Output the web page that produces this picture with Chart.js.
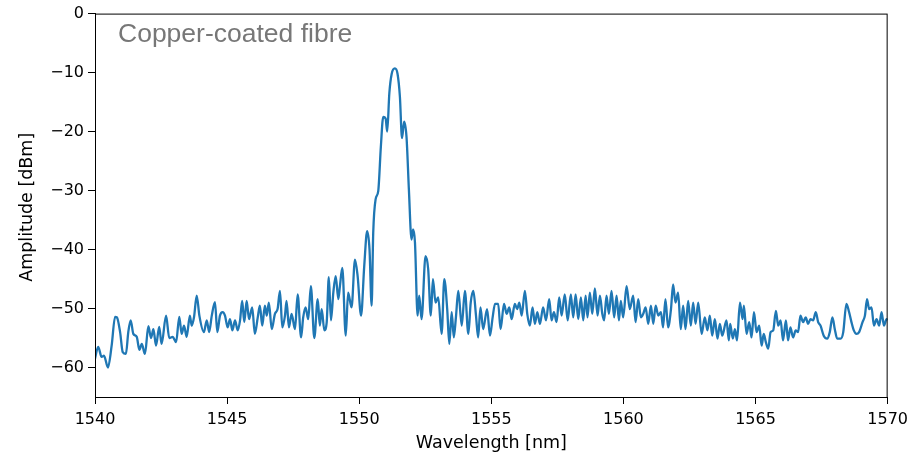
<!DOCTYPE html>
<html lang="en">
<head>
  <meta charset="UTF-8">
  <title>Copper-coated fibre spectrum</title>
  <script src="https://cdn.jsdelivr.net/npm/chart.js"></script>
  <style>
    html, body { margin: 0; padding: 0; background: #fff; }
    #wrap { width: 914px; height: 458px; position: relative; }
  </style>
</head>
<body>
  <div id="wrap"><canvas id="spectrum"></canvas></div>

  <script>
    // Spectrum
    const wavelength = [
      1540.00, 1540.12, 1540.25, 1540.34, 1540.49, 1540.63, 1540.76, 1540.83, 1540.95, 1541.05,
      1541.17, 1541.26, 1541.35, 1541.45, 1541.58, 1541.68, 1541.77, 1541.89, 1542.02, 1542.12,
      1542.21, 1542.31, 1542.43, 1542.52, 1542.69, 1542.81, 1542.94, 1543.07, 1543.19, 1543.28,
      1543.37, 1543.47, 1543.59, 1543.66, 1543.75, 1543.85, 1543.95, 1544.12, 1544.23, 1544.32,
      1544.42, 1544.54, 1544.63, 1544.73, 1544.83, 1544.92, 1545.02, 1545.11, 1545.20, 1545.30,
      1545.40, 1545.49, 1545.57, 1545.65, 1545.74, 1545.83, 1545.95, 1546.05, 1546.16, 1546.24,
      1546.33, 1546.43, 1546.50, 1546.58, 1546.69, 1546.81, 1546.91, 1547.00, 1547.09, 1547.19,
      1547.25, 1547.34, 1547.44, 1547.57, 1547.67, 1547.80, 1547.88, 1547.97, 1548.07, 1548.17,
      1548.30, 1548.43, 1548.51, 1548.58, 1548.68, 1548.77, 1548.85, 1548.93, 1549.02, 1549.11,
      1549.21, 1549.27, 1549.36, 1549.49, 1549.58, 1549.71, 1549.84, 1549.94, 1550.07, 1550.19,
      1550.30, 1550.39, 1550.47, 1550.53, 1550.62, 1550.72, 1550.82, 1550.91, 1551.00, 1551.06,
      1551.14, 1551.23, 1551.35, 1551.45, 1551.54, 1551.62, 1551.70, 1551.79, 1551.88, 1551.98,
      1552.04, 1552.11, 1552.21, 1552.27, 1552.36, 1552.51, 1552.61, 1552.71, 1552.79, 1552.89,
      1552.99, 1553.12, 1553.22, 1553.33, 1553.41, 1553.50, 1553.58, 1553.66, 1553.75, 1553.88,
      1554.00, 1554.13, 1554.22, 1554.32, 1554.42, 1554.50, 1554.59, 1554.69, 1554.84, 1554.95,
      1555.05, 1555.14, 1555.26, 1555.35, 1555.48, 1555.58, 1555.68, 1555.77, 1555.89, 1555.98,
      1556.06, 1556.15, 1556.27, 1556.36, 1556.46, 1556.56, 1556.65, 1556.74, 1556.84, 1556.96,
      1557.07, 1557.19, 1557.28, 1557.37, 1557.47, 1557.57, 1557.66, 1557.78, 1557.89, 1558.01,
      1558.10, 1558.19, 1558.29, 1558.39, 1558.48, 1558.57, 1558.64, 1558.73, 1558.82, 1558.92,
      1559.02, 1559.11, 1559.20, 1559.27, 1559.36, 1559.45, 1559.55, 1559.65, 1559.74, 1559.83,
      1559.90, 1559.99, 1560.12, 1560.24, 1560.37, 1560.46, 1560.56, 1560.66, 1560.75, 1560.84,
      1560.94, 1561.04, 1561.13, 1561.22, 1561.32, 1561.42, 1561.50, 1561.59, 1561.69, 1561.80,
      1561.88, 1561.97, 1562.07, 1562.17, 1562.26, 1562.35, 1562.45, 1562.55, 1562.64, 1562.73,
      1562.83, 1562.96, 1563.08, 1563.18, 1563.27, 1563.36, 1563.46, 1563.56, 1563.65, 1563.74,
      1563.90, 1563.99, 1564.04, 1564.14, 1564.22, 1564.30, 1564.41, 1564.51, 1564.56, 1564.66,
      1564.76, 1564.85, 1564.94, 1565.04, 1565.14, 1565.23, 1565.31, 1565.39, 1565.48, 1565.57,
      1565.67, 1565.77, 1565.86, 1565.95, 1566.04, 1566.15, 1566.23, 1566.32, 1566.42, 1566.52,
      1566.61, 1566.70, 1566.80, 1566.90, 1566.99, 1567.08, 1567.18, 1567.28, 1567.37, 1567.46,
      1567.58, 1567.71, 1567.81, 1567.91, 1568.00, 1568.09, 1568.22, 1568.32, 1568.44, 1568.54,
      1568.63, 1568.72, 1568.82, 1568.92, 1569.05, 1569.14, 1569.22, 1569.30, 1569.39, 1569.48,
      1569.58, 1569.68, 1569.77, 1569.86, 1569.96, 1570.00
    ];
    const amplitude = [
      -58.5, -56.5, -58.2, -58.0, -60.0, -56.3, -51.4, -51.5, -54.0, -57.4,
      -57.7, -54.0, -52.0, -54.3, -54.8, -57.0, -56.0, -57.7, -53.0, -55.0,
      -53.5, -56.3, -53.1, -56.0, -51.2, -55.0, -54.8, -55.7, -51.4, -54.3,
      -52.9, -54.8, -51.2, -52.9, -51.4, -47.8, -51.2, -54.0, -52.0, -54.0,
      -51.2, -48.9, -54.0, -51.2, -50.6, -51.2, -53.2, -51.8, -53.7, -52.0,
      -53.7, -52.0, -48.7, -52.3, -48.7, -51.8, -49.8, -54.3, -51.5, -49.5,
      -52.9, -49.5, -51.2, -49.0, -53.5, -50.9, -50.1, -47.0, -53.2, -51.2,
      -48.7, -53.2, -50.9, -53.5, -47.6, -54.9, -51.5, -49.8, -51.8, -46.2,
      -55.0, -48.4, -52.9, -50.1, -53.7, -52.3, -44.7, -52.0, -47.3, -44.5,
      -48.4, -46.2, -43.1, -54.6, -47.3, -49.8, -41.7, -44.5, -51.2, -42.8,
      -36.9, -40.0, -49.5, -37.2, -31.5, -30.1, -22.5, -17.5, -17.8, -20.0,
      -13.5, -10.2, -9.3, -10.2, -14.1, -21.1, -18.3, -20.9, -29.8, -38.3,
      -36.6, -38.8, -51.2, -47.8, -51.8, -41.1, -43.3, -51.2, -45.0, -49.0,
      -48.1, -54.3, -45.0, -50.1, -56.0, -50.6, -54.9, -51.5, -47.0, -52.9,
      -47.0, -54.3, -49.0, -47.0, -51.2, -54.9, -49.8, -53.5, -50.1, -54.6,
      -51.5, -49.2, -49.2, -53.5, -49.2, -50.9, -49.8, -51.8, -49.2, -50.1,
      -49.0, -51.2, -47.0, -50.9, -52.9, -49.8, -52.6, -50.6, -52.6, -49.8,
      -52.0, -48.4, -52.0, -50.6, -52.3, -48.1, -51.2, -47.6, -52.0, -47.6,
      -51.5, -47.6, -51.8, -48.1, -52.0, -47.8, -51.5, -47.3, -50.9, -46.6,
      -51.2, -47.8, -50.9, -52.0, -47.8, -50.9, -47.0, -51.5, -47.8, -52.0,
      -48.7, -51.5, -46.2, -50.1, -47.8, -52.3, -48.4, -51.5, -50.9, -49.8,
      -52.6, -49.5, -52.6, -49.5, -51.2, -50.6, -53.2, -48.4, -53.2, -50.1,
      -45.9, -49.0, -47.3, -53.5, -49.5, -53.5, -48.7, -52.9, -49.0, -52.6,
      -49.0, -54.3, -51.5, -53.7, -51.2, -54.6, -51.8, -55.1, -52.6, -54.6,
      -52.0, -55.4, -52.6, -55.1, -53.5, -55.4, -49.0, -51.8, -49.5, -54.3,
      -52.3, -54.9, -50.6, -54.0, -52.9, -56.3, -54.3, -55.7, -56.8, -54.0,
      -53.7, -50.4, -52.9, -52.0, -55.4, -52.0, -55.4, -53.2, -54.9, -53.7,
      -54.0, -51.2, -52.3, -51.5, -52.6, -51.8, -52.0, -50.6, -52.3, -52.9,
      -54.6, -55.1, -54.0, -51.5, -53.5, -55.1, -55.1, -54.0, -49.2, -50.6,
      -52.3, -53.7, -54.3, -54.0, -52.3, -51.2, -48.4, -50.1, -49.8, -52.9,
      -51.8, -52.9, -50.6, -52.9, -51.8, -52.0
    ];
    const xTicks = [1540, 1545, 1550, 1555, 1560, 1565, 1570];
    const yTicks = [0, -10, -20, -30, -40, -50, -60];
    const label = 'Copper-coated fibre';

    const tickFont = { family: "'DejaVu Sans', sans-serif", size: 16 };
    // matplotlib style minus sign
    const fmt = v => (v < 0 ? '\u2212' + Math.abs(v) : String(v));

    // frame, axis titles and the in-plot label
    const decorations = {
      id: 'decorations',
      afterDraw(chart) {
        const { ctx, chartArea: a } = chart;
        ctx.save();
        ctx.strokeStyle = '#000';
        ctx.lineWidth = 1;
        ctx.strokeRect(a.left + 0.5, a.top + 0.5, a.right - a.left - 1, a.bottom - a.top);

        ctx.fillStyle = '#000';
        ctx.font = "17.5px 'DejaVu Sans', sans-serif";
        ctx.textAlign = 'center';
        ctx.textBaseline = 'middle';
        ctx.fillText('Wavelength [nm]', (a.left + a.right) / 2, 443);

        ctx.translate(27, (a.top + a.bottom) / 2 + 2);
        ctx.rotate(-Math.PI / 2);
        ctx.fillText('Amplitude [dBm]', 0, 0);
        ctx.restore();

        ctx.save();
        ctx.fillStyle = '#777777';
        ctx.font = "26.5px 'Liberation Sans', Arial, sans-serif";
        ctx.textAlign = 'left';
        ctx.textBaseline = 'middle';
        ctx.fillText(label, 118, 35);
        ctx.restore();
      }
    };

    new Chart(document.getElementById('spectrum'), {
      type: 'line',
      data: {
        datasets: [{
          data: wavelength.map((w, i) => ({ x: w, y: amplitude[i] })),
          borderColor: '#1f77b4',
          borderWidth: 2.3,
          pointRadius: 0,
          cubicInterpolationMode: 'monotone',
          fill: false
        }]
      },
      options: {
        responsive: true,
        maintainAspectRatio: false,
        animation: false,
        layout: { padding: { left: 0, top: 13, right: 26, bottom: 0 } },
        plugins: { legend: { display: false }, tooltip: { enabled: false } },
        scales: {
          x: {
            type: 'linear',
            min: 1540,
            max: 1570,
            afterBuildTicks: s => { s.ticks = xTicks.map(v => ({ value: v })); },
            afterFit: s => { s.height = 61; },
            ticks: { color: '#000', font: tickFont, padding: 6, maxRotation: 0, callback: fmt },
            grid: { drawOnChartArea: false, color: '#000', tickLength: 7 },
            border: { color: '#000' }
          },
          y: {
            min: -65,
            max: 0,
            afterBuildTicks: s => { s.ticks = yTicks.map(v => ({ value: v })); },
            afterFit: s => { s.width = 95; },
            ticks: { color: '#000', font: tickFont, padding: 4, callback: fmt },
            grid: { drawOnChartArea: false, color: '#000', tickLength: 7 },
            border: { color: '#000' }
          }
        }
      },
      plugins: [decorations]
    });
  </script>
</body>
</html>
